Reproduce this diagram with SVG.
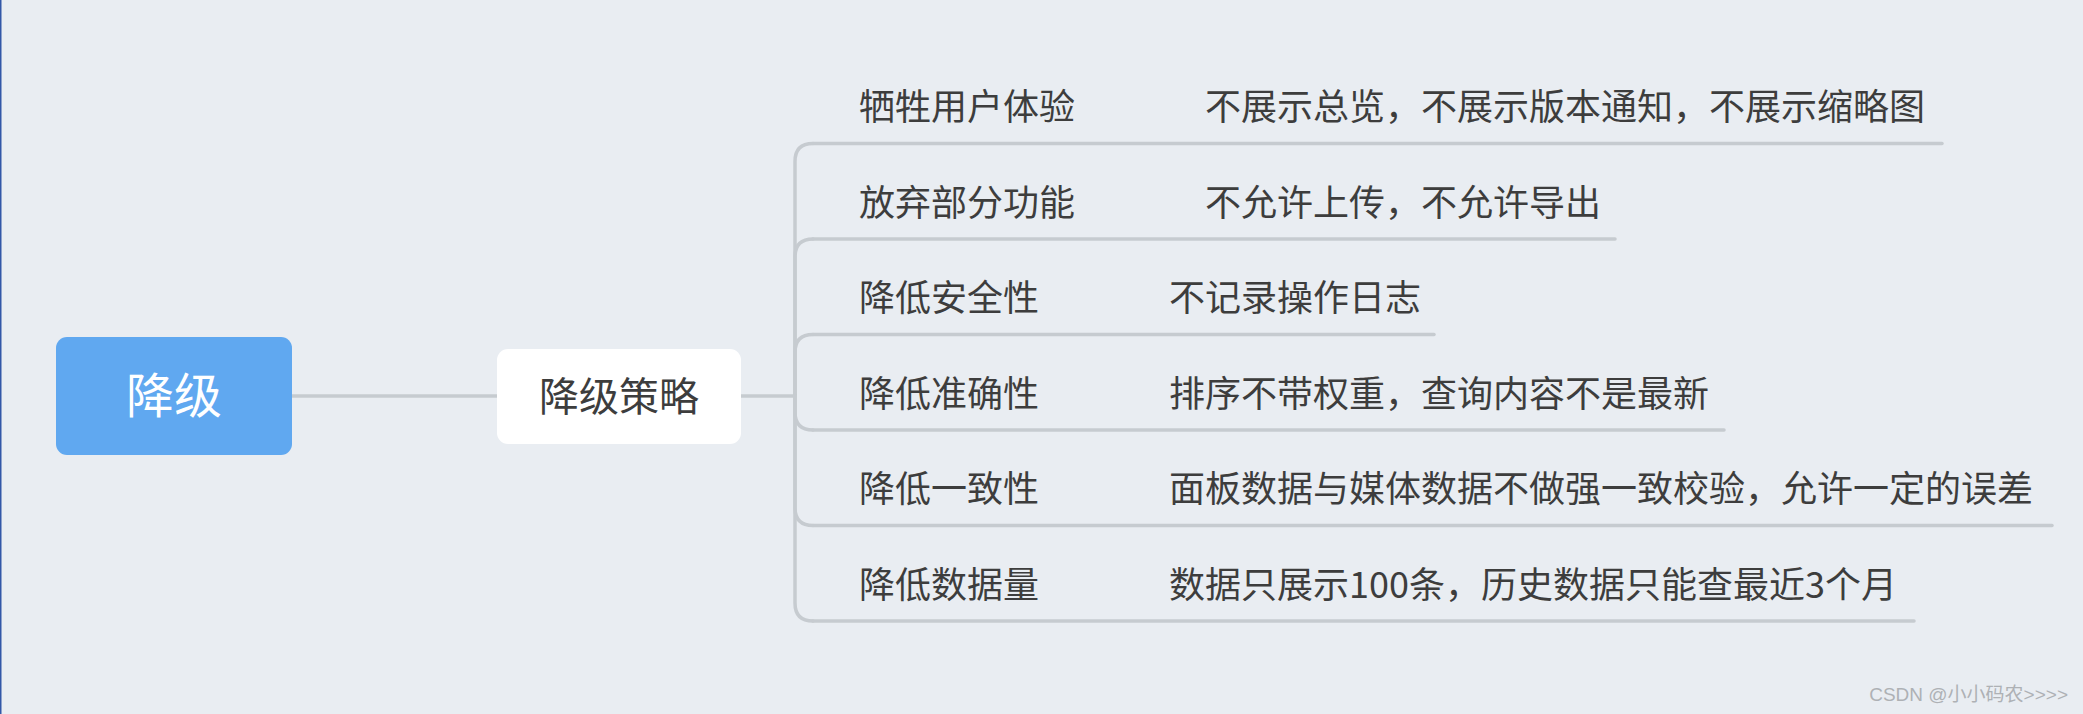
<svg xmlns="http://www.w3.org/2000/svg" width="2083" height="714" viewBox="0 0 2083 714">
<style>
.bg{fill:#e9edf2}
.ln{fill:none;stroke:#c6cbd0;stroke-width:3.5;stroke-linecap:round}
.t{font-family:"Noto Sans CJK SC","Noto Sans",sans-serif;fill:#3d3d3d;font-size:36px}
.root{fill:#60a8f0}
.rt{font-family:"Noto Sans CJK SC","Noto Sans",sans-serif;fill:#ffffff;font-size:48px}
.mid{fill:#ffffff}
.mt{font-family:"Noto Sans CJK SC","Noto Sans",sans-serif;fill:#3d3d3d;font-size:40px}
.wm{font-family:"Liberation Sans","Noto Sans CJK SC",sans-serif;fill:#aeb1b5;font-size:19px}
</style>
<rect class="bg" x="0" y="0" width="2083" height="714"/>
<rect x="0" y="0" width="1.5" height="714" fill="#3358a8"/>
<g id="connectors">
<line class="ln" x1="292" y1="396" x2="497" y2="396"/>
<line class="ln" x1="741" y1="396" x2="795" y2="396"/>
<path class="ln" d="M795 396 V161.5 Q795 143.5 813 143.5"/>
<path class="ln" d="M795 396 V257 Q795 239 813 239"/>
<path class="ln" d="M795 396 V352.5 Q795 334.5 813 334.5"/>
<path class="ln" d="M795 396 V412 Q795 430 813 430"/>
<path class="ln" d="M795 396 V507.5 Q795 525.5 813 525.5"/>
<path class="ln" d="M795 396 V603 Q795 621 813 621"/>
</g>
<g id="root">
<rect class="root" x="56" y="337" width="236" height="118" rx="11"/>
<text class="rt" x="174" y="413" text-anchor="middle">降级</text>
</g>
<g id="strategy">
<rect class="mid" x="497" y="349" width="244" height="95" rx="11"/>
<text class="mt" x="619" y="411" text-anchor="middle">降级策略</text>
</g>
<g id="n1">
<line class="ln" x1="813" y1="143.5" x2="1942" y2="143.5"/>
<text class="t" x="859" y="120">牺牲用户体验</text>
<text class="t" x="1205" y="120">不展示总览，不展示版本通知，不展示缩略图</text>
</g>
<g id="n2">
<line class="ln" x1="813" y1="239" x2="1615" y2="239"/>
<text class="t" x="859" y="215.5">放弃部分功能</text>
<text class="t" x="1205" y="215.5">不允许上传，不允许导出</text>
</g>
<g id="n3">
<line class="ln" x1="813" y1="334.5" x2="1434" y2="334.5"/>
<text class="t" x="859" y="311">降低安全性</text>
<text class="t" x="1169" y="311">不记录操作日志</text>
</g>
<g id="n4">
<line class="ln" x1="813" y1="430" x2="1724" y2="430"/>
<text class="t" x="859" y="406.5">降低准确性</text>
<text class="t" x="1169" y="406.5">排序不带权重，查询内容不是最新</text>
</g>
<g id="n5">
<line class="ln" x1="813" y1="525.5" x2="2052" y2="525.5"/>
<text class="t" x="859" y="502">降低一致性</text>
<text class="t" x="1169" y="502">面板数据与媒体数据不做强一致校验，允许一定的误差</text>
</g>
<g id="n6">
<line class="ln" x1="813" y1="621" x2="1914" y2="621"/>
<text class="t" x="859" y="597.5">降低数据量</text>
<text class="t" x="1169" y="597.5">数据只展示100条，历史数据只能查最近3个月</text>
</g>
<text class="wm" x="2068" y="701" text-anchor="end">CSDN @小小码农&gt;&gt;&gt;&gt;</text>
</svg>
